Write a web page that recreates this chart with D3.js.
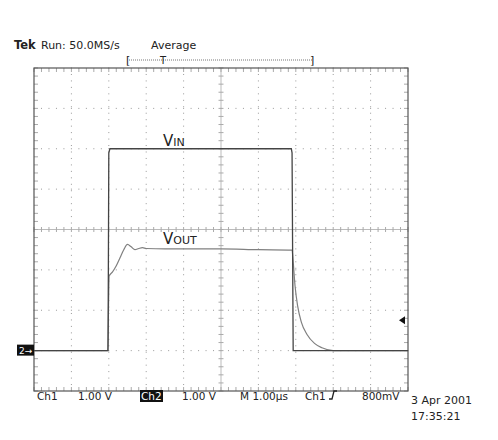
<!DOCTYPE html>
<html>
<head>
<meta charset="utf-8">
<script src="https://cdn.jsdelivr.net/npm/d3@7"></script>
<style>
  body { margin: 0; background: #fff; }
  text { font-family: "DejaVu Sans", sans-serif; fill: #222; }
</style>
</head>
<body>
<svg id="scope" width="498" height="440"></svg>
<script>
// time in microseconds, voltage in volts above ground (1 V/div, ground at -3 div)
var vinTime = [-5, -3.02, -3.0, -2.97, 1.88, 1.9, 1.93, 5];
var vinVolts = [0, 0, 4.9, 5.0, 5.0, 4.9, 0, 0];
var voutTime = [-5, -3.03, -2.99, -2.9, -2.8, -2.7, -2.6, -2.5, -2.4, -2.3, -2.2, -2.1, -2.0, -1.5, 0, 1.0, 1.9, 1.93, 1.98, 2.05, 2.15, 2.3, 2.5, 2.7, 3.0, 5];
var voutVolts = [0, 0, 1.85, 1.95, 2.1, 2.3, 2.5, 2.63, 2.57, 2.5, 2.53, 2.55, 2.53, 2.52, 2.52, 2.5, 2.49, 2.2, 1.6, 1.1, 0.7, 0.4, 0.18, 0.07, 0, 0];
var groundDiv = -3;
var bottomLabels = [["Ch1", 37], ["1.00 V", 78], ["1.00 V", 182], ["M 1.00\u00b5s", 240], ["Ch1", 305], ["800mV", 362]];

var svg = d3.select('#scope');
var x = d3.scaleLinear().domain([-5, 5]).range([34, 408]);
var y = d3.scaleLinear().domain([-4, 4]).range([391, 68]);

var grid = svg.append('g').attr('stroke', '#aaa').attr('stroke-width', 1);
// dotted graticule: dots every 1/5 div along major lines
d3.range(-4, 5).forEach(function (i) {
    d3.range(-25, 26).forEach(function (j) {
        if (i !== 0) grid.append('rect').attr('x', x(i) - 0.5).attr('y', y(j / 5 * 0.8) - 0.5).attr('width', 1).attr('height', 1).attr('fill', '#999').attr('stroke', 'none');
    });
});
d3.range(-3, 4).forEach(function (j) {
    d3.range(-25, 26).forEach(function (i) {
        if (j !== 0) grid.append('rect').attr('x', x(i / 5) - 0.5).attr('y', y(j) - 0.5).attr('width', 1).attr('height', 1).attr('fill', '#999').attr('stroke', 'none');
    });
});
// centre lines with ticks
grid.append('line').attr('x1', x(-5)).attr('x2', x(5)).attr('y1', y(0)).attr('y2', y(0)).attr('stroke', '#bbb');
grid.append('line').attr('x1', x(0)).attr('x2', x(0)).attr('y1', y(-4)).attr('y2', y(4)).attr('stroke', '#bbb');
d3.range(-25, 26).forEach(function (i) {
    var xx = x(i / 5);
    grid.append('line').attr('x1', xx).attr('x2', xx).attr('y1', y(0) - 2.5).attr('y2', y(0) + 2.5);
    grid.append('line').attr('x1', xx).attr('x2', xx).attr('y1', y(4)).attr('y2', y(4) + 4);
    grid.append('line').attr('x1', xx).attr('x2', xx).attr('y1', y(-4)).attr('y2', y(-4) - 4);
});
d3.range(-20, 21).forEach(function (j) {
    var yy = y(j / 5);
    grid.append('line').attr('y1', yy).attr('y2', yy).attr('x1', x(0) - 2.5).attr('x2', x(0) + 2.5);
    grid.append('line').attr('y1', yy).attr('y2', yy).attr('x1', x(-5)).attr('x2', x(-5) + 4);
    grid.append('line').attr('y1', yy).attr('y2', yy).attr('x1', x(5)).attr('x2', x(5) - 4);
});
svg.append('rect').attr('x', x(-5)).attr('y', y(4)).attr('width', x(5) - x(-5)).attr('height', y(-4) - y(4))
    .attr('fill', 'none').attr('stroke', '#555').attr('stroke-width', 1.2);

var line = d3.line().x(function (d) { return x(d[0]); }).y(function (d) { return y(d[1] + groundDiv); });
svg.append('path').datum(d3.zip(voutTime, voutVolts)).attr('d', line.curve(d3.curveMonotoneX))
    .attr('fill', 'none').attr('stroke', '#808080').attr('stroke-width', 1.2);
svg.append('path').datum(d3.zip(vinTime, vinVolts)).attr('d', line.curve(d3.curveLinear))
    .attr('fill', 'none').attr('stroke', '#444').attr('stroke-width', 1.3);

// trace labels
var vin = svg.append('text').attr('x', 163).attr('y', 146).attr('font-size', 15).attr('font-family', 'Liberation Sans');
vin.append('tspan').text('V');
vin.append('tspan').attr('font-size', 11).text('IN');
var vout = svg.append('text').attr('x', 163).attr('y', 244).attr('font-size', 15).attr('font-family', 'Liberation Sans');
vout.append('tspan').text('V');
vout.append('tspan').attr('font-size', 11).text('OUT');

// ground marker and trigger level marker
svg.append('rect').attr('x', 17).attr('y', y(groundDiv) - 6).attr('width', 17).attr('height', 11).attr('fill', '#111');
svg.append('text').attr('x', 19).attr('y', y(groundDiv) + 3).attr('font-size', 9).style('fill', '#fff').text('2\u2192');
svg.append('path').attr('d', 'M' + (x(5) - 9) + ',' + y(-2.25) + 'l6,-4v8z').attr('fill', '#111');

// header
svg.append('text').attr('x', 14).attr('y', 49).attr('font-size', 11.5).attr('font-weight', 'bold').text('Tek');
svg.append('text').attr('x', 41).attr('y', 49).attr('font-size', 11).text('Run: 50.0MS/s');
svg.append('text').attr('x', 151).attr('y', 49).attr('font-size', 11).text('Average');
svg.append('line').attr('x1', 129).attr('x2', 313).attr('y1', 60).attr('y2', 60).attr('stroke', '#777').attr('stroke-dasharray', '1,1');
svg.append('text').attr('x', 126).attr('y', 64).attr('font-size', 11).text('[');
svg.append('text').attr('x', 310).attr('y', 64).attr('font-size', 11).text(']');
svg.append('text').attr('x', 160).attr('y', 64).attr('font-size', 10).text('T');

// footer
bottomLabels.forEach(function (d) {
    svg.append('text').attr('x', d[1]).attr('y', 400).attr('font-size', 10.5).text(d[0]);
});
svg.append('rect').attr('x', 140).attr('y', 390).attr('width', 23).attr('height', 12).attr('fill', '#111');
svg.append('text').attr('x', 141).attr('y', 400).attr('font-size', 10.5).style('fill', '#fff').text('Ch2');
svg.append('path').attr('d', 'M329,399h3l2,-8h3').attr('fill', 'none').attr('stroke', '#222').attr('stroke-width', 1.3);
svg.append('text').attr('x', 411).attr('y', 404).attr('font-size', 11).text('3 Apr 2001');
svg.append('text').attr('x', 411).attr('y', 420).attr('font-size', 11).text('17:35:21');
</script>
</body>
</html>
